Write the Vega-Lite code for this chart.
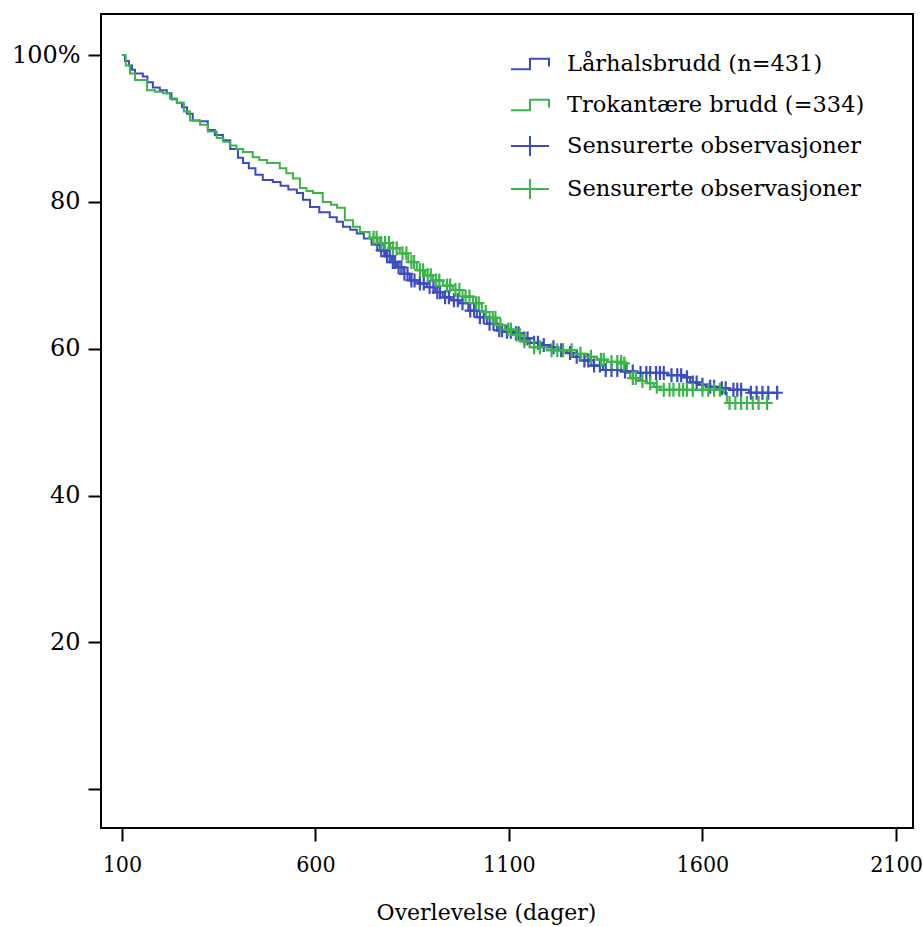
{
  "$schema": "https://vega.github.io/schema/vega-lite/v6.json",
  "autosize": "none",
  "width": 812,
  "height": 814,
  "padding": {"left": 101, "top": 14, "right": 10, "bottom": 99},
  "background": "white",
  "config": {
    "view": {"stroke": "black", "strokeWidth": 2},
    "font": "DejaVu Serif",
    "axis": {"grid": false, "domain": false, "tickColor": "black", "tickWidth": 2, "tickSize": 13, "labelColor": "black", "titleColor": "black", "labelFont": "DejaVu Serif", "titleFont": "DejaVu Serif", "titleFontWeight": "normal"}
  },
  "datasets": {
    "curves": [
      {"series": "Lårhalsbrudd (n=431)", "day": 100, "surv": 100},
      {"series": "Lårhalsbrudd (n=431)", "day": 108, "surv": 99.2},
      {"series": "Lårhalsbrudd (n=431)", "day": 118, "surv": 98.6},
      {"series": "Lårhalsbrudd (n=431)", "day": 126, "surv": 98.0},
      {"series": "Lårhalsbrudd (n=431)", "day": 134, "surv": 97.5},
      {"series": "Lårhalsbrudd (n=431)", "day": 154, "surv": 97.1},
      {"series": "Lårhalsbrudd (n=431)", "day": 166, "surv": 96.3},
      {"series": "Lårhalsbrudd (n=431)", "day": 180, "surv": 95.6},
      {"series": "Lårhalsbrudd (n=431)", "day": 198, "surv": 95.2},
      {"series": "Lårhalsbrudd (n=431)", "day": 216, "surv": 94.8},
      {"series": "Lårhalsbrudd (n=431)", "day": 228, "surv": 94.0},
      {"series": "Lårhalsbrudd (n=431)", "day": 242, "surv": 93.5},
      {"series": "Lårhalsbrudd (n=431)", "day": 255, "surv": 92.9},
      {"series": "Lårhalsbrudd (n=431)", "day": 268, "surv": 92.0},
      {"series": "Lårhalsbrudd (n=431)", "day": 283, "surv": 91.1},
      {"series": "Lårhalsbrudd (n=431)", "day": 300, "surv": 91.0},
      {"series": "Lårhalsbrudd (n=431)", "day": 322, "surv": 89.8},
      {"series": "Lårhalsbrudd (n=431)", "day": 340, "surv": 89.1},
      {"series": "Lårhalsbrudd (n=431)", "day": 361, "surv": 88.4},
      {"series": "Lårhalsbrudd (n=431)", "day": 380, "surv": 87.2},
      {"series": "Lårhalsbrudd (n=431)", "day": 400, "surv": 86.0},
      {"series": "Lårhalsbrudd (n=431)", "day": 413, "surv": 85.3},
      {"series": "Lårhalsbrudd (n=431)", "day": 428, "surv": 84.6},
      {"series": "Lårhalsbrudd (n=431)", "day": 445, "surv": 83.7},
      {"series": "Lårhalsbrudd (n=431)", "day": 464, "surv": 83.0},
      {"series": "Lårhalsbrudd (n=431)", "day": 490, "surv": 82.7},
      {"series": "Lårhalsbrudd (n=431)", "day": 510, "surv": 82.2},
      {"series": "Lårhalsbrudd (n=431)", "day": 530, "surv": 81.7},
      {"series": "Lårhalsbrudd (n=431)", "day": 552, "surv": 81.2},
      {"series": "Lårhalsbrudd (n=431)", "day": 568, "surv": 80.3},
      {"series": "Lårhalsbrudd (n=431)", "day": 586, "surv": 79.3},
      {"series": "Lårhalsbrudd (n=431)", "day": 610, "surv": 78.6},
      {"series": "Lårhalsbrudd (n=431)", "day": 637, "surv": 77.9},
      {"series": "Lårhalsbrudd (n=431)", "day": 655, "surv": 77.3},
      {"series": "Lårhalsbrudd (n=431)", "day": 671, "surv": 76.6},
      {"series": "Lårhalsbrudd (n=431)", "day": 690, "surv": 76.2},
      {"series": "Lårhalsbrudd (n=431)", "day": 707, "surv": 75.7},
      {"series": "Lårhalsbrudd (n=431)", "day": 725, "surv": 75.0},
      {"series": "Lårhalsbrudd (n=431)", "day": 745, "surv": 74.2},
      {"series": "Lårhalsbrudd (n=431)", "day": 767, "surv": 73.4},
      {"series": "Lårhalsbrudd (n=431)", "day": 782, "surv": 72.6},
      {"series": "Lårhalsbrudd (n=431)", "day": 797, "surv": 71.8},
      {"series": "Lårhalsbrudd (n=431)", "day": 811, "surv": 71.1},
      {"series": "Lårhalsbrudd (n=431)", "day": 828, "surv": 70.2},
      {"series": "Lårhalsbrudd (n=431)", "day": 844, "surv": 69.3},
      {"series": "Lårhalsbrudd (n=431)", "day": 865, "surv": 68.9},
      {"series": "Lårhalsbrudd (n=431)", "day": 888, "surv": 68.4},
      {"series": "Lårhalsbrudd (n=431)", "day": 910, "surv": 67.7},
      {"series": "Lårhalsbrudd (n=431)", "day": 929, "surv": 67.0},
      {"series": "Lårhalsbrudd (n=431)", "day": 950, "surv": 66.6},
      {"series": "Lårhalsbrudd (n=431)", "day": 973, "surv": 66.2},
      {"series": "Lårhalsbrudd (n=431)", "day": 995, "surv": 65.2},
      {"series": "Lårhalsbrudd (n=431)", "day": 1017, "surv": 64.3},
      {"series": "Lårhalsbrudd (n=431)", "day": 1043, "surv": 63.4},
      {"series": "Lårhalsbrudd (n=431)", "day": 1069, "surv": 62.5},
      {"series": "Lårhalsbrudd (n=431)", "day": 1090, "surv": 62.3},
      {"series": "Lårhalsbrudd (n=431)", "day": 1110, "surv": 62.1},
      {"series": "Lårhalsbrudd (n=431)", "day": 1132, "surv": 61.4},
      {"series": "Lårhalsbrudd (n=431)", "day": 1154, "surv": 60.8},
      {"series": "Lårhalsbrudd (n=431)", "day": 1180, "surv": 60.5},
      {"series": "Lårhalsbrudd (n=431)", "day": 1206, "surv": 60.2},
      {"series": "Lårhalsbrudd (n=431)", "day": 1228, "surv": 59.8},
      {"series": "Lårhalsbrudd (n=431)", "day": 1250, "surv": 59.4},
      {"series": "Lårhalsbrudd (n=431)", "day": 1266, "surv": 58.9},
      {"series": "Lårhalsbrudd (n=431)", "day": 1283, "surv": 58.4},
      {"series": "Lårhalsbrudd (n=431)", "day": 1313, "surv": 57.7},
      {"series": "Lårhalsbrudd (n=431)", "day": 1343, "surv": 57.1},
      {"series": "Lårhalsbrudd (n=431)", "day": 1390, "surv": 56.9},
      {"series": "Lårhalsbrudd (n=431)", "day": 1431, "surv": 56.7},
      {"series": "Lårhalsbrudd (n=431)", "day": 1510, "surv": 56.4},
      {"series": "Lårhalsbrudd (n=431)", "day": 1550, "surv": 56.1},
      {"series": "Lårhalsbrudd (n=431)", "day": 1568, "surv": 55.4},
      {"series": "Lårhalsbrudd (n=431)", "day": 1590, "surv": 55.1},
      {"series": "Lårhalsbrudd (n=431)", "day": 1612, "surv": 54.8},
      {"series": "Lårhalsbrudd (n=431)", "day": 1640, "surv": 54.6},
      {"series": "Lårhalsbrudd (n=431)", "day": 1671, "surv": 54.4},
      {"series": "Lårhalsbrudd (n=431)", "day": 1720, "surv": 54.0},
      {"series": "Lårhalsbrudd (n=431)", "day": 1793, "surv": 54.0},
      {"series": "Trokantære brudd (=334)", "day": 100, "surv": 100},
      {"series": "Trokantære brudd (=334)", "day": 110, "surv": 98.6},
      {"series": "Trokantære brudd (=334)", "day": 121, "surv": 97.5},
      {"series": "Trokantære brudd (=334)", "day": 134, "surv": 96.6},
      {"series": "Trokantære brudd (=334)", "day": 165, "surv": 95.2},
      {"series": "Trokantære brudd (=334)", "day": 185, "surv": 95.0},
      {"series": "Trokantære brudd (=334)", "day": 206, "surv": 94.8},
      {"series": "Trokantære brudd (=334)", "day": 224, "surv": 94.1},
      {"series": "Trokantære brudd (=334)", "day": 242, "surv": 93.5},
      {"series": "Trokantære brudd (=334)", "day": 260, "surv": 92.3},
      {"series": "Trokantære brudd (=334)", "day": 276, "surv": 91.1},
      {"series": "Trokantære brudd (=334)", "day": 302, "surv": 90.5},
      {"series": "Trokantære brudd (=334)", "day": 322, "surv": 89.6},
      {"series": "Trokantære brudd (=334)", "day": 345, "surv": 88.7},
      {"series": "Trokantære brudd (=334)", "day": 362, "surv": 88.2},
      {"series": "Trokantære brudd (=334)", "day": 379, "surv": 87.7},
      {"series": "Trokantære brudd (=334)", "day": 396, "surv": 87.2},
      {"series": "Trokantære brudd (=334)", "day": 413, "surv": 86.8},
      {"series": "Trokantære brudd (=334)", "day": 438, "surv": 86.1},
      {"series": "Trokantære brudd (=334)", "day": 455, "surv": 85.7},
      {"series": "Trokantære brudd (=334)", "day": 475, "surv": 85.3},
      {"series": "Trokantære brudd (=334)", "day": 508, "surv": 84.6},
      {"series": "Trokantære brudd (=334)", "day": 525, "surv": 83.9},
      {"series": "Trokantære brudd (=334)", "day": 542, "surv": 83.2},
      {"series": "Trokantære brudd (=334)", "day": 560, "surv": 81.9},
      {"series": "Trokantære brudd (=334)", "day": 577, "surv": 81.5},
      {"series": "Trokantære brudd (=334)", "day": 594, "surv": 81.2},
      {"series": "Trokantære brudd (=334)", "day": 619, "surv": 80.0},
      {"series": "Trokantære brudd (=334)", "day": 640, "surv": 79.6},
      {"series": "Trokantære brudd (=334)", "day": 656, "surv": 79.2},
      {"series": "Trokantære brudd (=334)", "day": 676, "surv": 77.5},
      {"series": "Trokantære brudd (=334)", "day": 697, "surv": 76.6},
      {"series": "Trokantære brudd (=334)", "day": 715, "surv": 75.9},
      {"series": "Trokantære brudd (=334)", "day": 740, "surv": 75.1},
      {"series": "Trokantære brudd (=334)", "day": 767, "surv": 74.4},
      {"series": "Trokantære brudd (=334)", "day": 793, "surv": 73.7},
      {"series": "Trokantære brudd (=334)", "day": 818, "surv": 73.0},
      {"series": "Trokantære brudd (=334)", "day": 840, "surv": 71.8},
      {"series": "Trokantære brudd (=334)", "day": 862, "surv": 70.7},
      {"series": "Trokantære brudd (=334)", "day": 883, "surv": 70.0},
      {"series": "Trokantære brudd (=334)", "day": 904, "surv": 69.3},
      {"series": "Trokantære brudd (=334)", "day": 930, "surv": 68.6},
      {"series": "Trokantære brudd (=334)", "day": 955, "surv": 68.0},
      {"series": "Trokantære brudd (=334)", "day": 980, "surv": 67.1},
      {"series": "Trokantære brudd (=334)", "day": 1007, "surv": 66.2},
      {"series": "Trokantære brudd (=334)", "day": 1030, "surv": 65.0},
      {"series": "Trokantære brudd (=334)", "day": 1050, "surv": 64.2},
      {"series": "Trokantære brudd (=334)", "day": 1069, "surv": 63.2},
      {"series": "Trokantære brudd (=334)", "day": 1090, "surv": 62.6},
      {"series": "Trokantære brudd (=334)", "day": 1110, "surv": 61.9},
      {"series": "Trokantære brudd (=334)", "day": 1132, "surv": 61.0},
      {"series": "Trokantære brudd (=334)", "day": 1154, "surv": 60.2},
      {"series": "Trokantære brudd (=334)", "day": 1198, "surv": 59.8},
      {"series": "Trokantære brudd (=334)", "day": 1275, "surv": 59.3},
      {"series": "Trokantære brudd (=334)", "day": 1302, "surv": 58.9},
      {"series": "Trokantære brudd (=334)", "day": 1328, "surv": 58.5},
      {"series": "Trokantære brudd (=334)", "day": 1353, "surv": 58.2},
      {"series": "Trokantære brudd (=334)", "day": 1395, "surv": 58.0},
      {"series": "Trokantære brudd (=334)", "day": 1405, "surv": 56.7},
      {"series": "Trokantære brudd (=334)", "day": 1413, "surv": 56.0},
      {"series": "Trokantære brudd (=334)", "day": 1435, "surv": 55.6},
      {"series": "Trokantære brudd (=334)", "day": 1457, "surv": 55.3},
      {"series": "Trokantære brudd (=334)", "day": 1475, "surv": 54.8},
      {"series": "Trokantære brudd (=334)", "day": 1490, "surv": 54.4},
      {"series": "Trokantære brudd (=334)", "day": 1653, "surv": 54.0},
      {"series": "Trokantære brudd (=334)", "day": 1663, "surv": 52.6},
      {"series": "Trokantære brudd (=334)", "day": 1767, "surv": 52.6}
    ],
    "censor": [
      {"series": "Sensurerte observasjoner", "day": 760, "surv": 74.2},
      {"series": "Sensurerte observasjoner", "day": 770, "surv": 73.4},
      {"series": "Sensurerte observasjoner", "day": 778, "surv": 73.4},
      {"series": "Sensurerte observasjoner", "day": 785, "surv": 72.6},
      {"series": "Sensurerte observasjoner", "day": 792, "surv": 72.6},
      {"series": "Sensurerte observasjoner", "day": 800, "surv": 71.8},
      {"series": "Sensurerte observasjoner", "day": 806, "surv": 71.8},
      {"series": "Sensurerte observasjoner", "day": 815, "surv": 71.1},
      {"series": "Sensurerte observasjoner", "day": 822, "surv": 71.1},
      {"series": "Sensurerte observasjoner", "day": 830, "surv": 70.2},
      {"series": "Sensurerte observasjoner", "day": 838, "surv": 70.2},
      {"series": "Sensurerte observasjoner", "day": 848, "surv": 69.3},
      {"series": "Sensurerte observasjoner", "day": 856, "surv": 69.3},
      {"series": "Sensurerte observasjoner", "day": 870, "surv": 68.9},
      {"series": "Sensurerte observasjoner", "day": 880, "surv": 68.9},
      {"series": "Sensurerte observasjoner", "day": 895, "surv": 68.4},
      {"series": "Sensurerte observasjoner", "day": 905, "surv": 68.4},
      {"series": "Sensurerte observasjoner", "day": 915, "surv": 67.7},
      {"series": "Sensurerte observasjoner", "day": 922, "surv": 67.7},
      {"series": "Sensurerte observasjoner", "day": 935, "surv": 67.0},
      {"series": "Sensurerte observasjoner", "day": 945, "surv": 67.0},
      {"series": "Sensurerte observasjoner", "day": 958, "surv": 66.6},
      {"series": "Sensurerte observasjoner", "day": 968, "surv": 66.6},
      {"series": "Sensurerte observasjoner", "day": 980, "surv": 66.2},
      {"series": "Sensurerte observasjoner", "day": 1000, "surv": 65.2},
      {"series": "Sensurerte observasjoner", "day": 1010, "surv": 65.2},
      {"series": "Sensurerte observasjoner", "day": 1025, "surv": 64.3},
      {"series": "Sensurerte observasjoner", "day": 1035, "surv": 64.3},
      {"series": "Sensurerte observasjoner", "day": 1050, "surv": 63.4},
      {"series": "Sensurerte observasjoner", "day": 1060, "surv": 63.4},
      {"series": "Sensurerte observasjoner", "day": 1075, "surv": 62.5},
      {"series": "Sensurerte observasjoner", "day": 1082, "surv": 62.5},
      {"series": "Sensurerte observasjoner", "day": 1095, "surv": 62.3},
      {"series": "Sensurerte observasjoner", "day": 1105, "surv": 62.3},
      {"series": "Sensurerte observasjoner", "day": 1118, "surv": 62.1},
      {"series": "Sensurerte observasjoner", "day": 1125, "surv": 62.1},
      {"series": "Sensurerte observasjoner", "day": 1140, "surv": 61.4},
      {"series": "Sensurerte observasjoner", "day": 1148, "surv": 61.4},
      {"series": "Sensurerte observasjoner", "day": 1165, "surv": 60.8},
      {"series": "Sensurerte observasjoner", "day": 1175, "surv": 60.8},
      {"series": "Sensurerte observasjoner", "day": 1190, "surv": 60.5},
      {"series": "Sensurerte observasjoner", "day": 1215, "surv": 60.2},
      {"series": "Sensurerte observasjoner", "day": 1235, "surv": 59.8},
      {"series": "Sensurerte observasjoner", "day": 1258, "surv": 59.4},
      {"series": "Sensurerte observasjoner", "day": 1275, "surv": 58.9},
      {"series": "Sensurerte observasjoner", "day": 1295, "surv": 58.4},
      {"series": "Sensurerte observasjoner", "day": 1305, "surv": 58.4},
      {"series": "Sensurerte observasjoner", "day": 1320, "surv": 57.7},
      {"series": "Sensurerte observasjoner", "day": 1335, "surv": 57.7},
      {"series": "Sensurerte observasjoner", "day": 1350, "surv": 57.1},
      {"series": "Sensurerte observasjoner", "day": 1365, "surv": 57.1},
      {"series": "Sensurerte observasjoner", "day": 1380, "surv": 57.1},
      {"series": "Sensurerte observasjoner", "day": 1400, "surv": 56.9},
      {"series": "Sensurerte observasjoner", "day": 1420, "surv": 56.9},
      {"series": "Sensurerte observasjoner", "day": 1440, "surv": 56.7},
      {"series": "Sensurerte observasjoner", "day": 1455, "surv": 56.7},
      {"series": "Sensurerte observasjoner", "day": 1465, "surv": 56.7},
      {"series": "Sensurerte observasjoner", "day": 1480, "surv": 56.7},
      {"series": "Sensurerte observasjoner", "day": 1490, "surv": 56.7},
      {"series": "Sensurerte observasjoner", "day": 1500, "surv": 56.7},
      {"series": "Sensurerte observasjoner", "day": 1520, "surv": 56.4},
      {"series": "Sensurerte observasjoner", "day": 1535, "surv": 56.4},
      {"series": "Sensurerte observasjoner", "day": 1545, "surv": 56.4},
      {"series": "Sensurerte observasjoner", "day": 1560, "surv": 56.1},
      {"series": "Sensurerte observasjoner", "day": 1575, "surv": 55.4},
      {"series": "Sensurerte observasjoner", "day": 1585, "surv": 55.4},
      {"series": "Sensurerte observasjoner", "day": 1600, "surv": 55.1},
      {"series": "Sensurerte observasjoner", "day": 1620, "surv": 54.8},
      {"series": "Sensurerte observasjoner", "day": 1630, "surv": 54.8},
      {"series": "Sensurerte observasjoner", "day": 1650, "surv": 54.6},
      {"series": "Sensurerte observasjoner", "day": 1660, "surv": 54.6},
      {"series": "Sensurerte observasjoner", "day": 1680, "surv": 54.4},
      {"series": "Sensurerte observasjoner", "day": 1690, "surv": 54.4},
      {"series": "Sensurerte observasjoner", "day": 1700, "surv": 54.4},
      {"series": "Sensurerte observasjoner", "day": 1725, "surv": 54.0},
      {"series": "Sensurerte observasjoner", "day": 1740, "surv": 54.0},
      {"series": "Sensurerte observasjoner", "day": 1755, "surv": 54.0},
      {"series": "Sensurerte observasjoner", "day": 1770, "surv": 54.0},
      {"series": "Sensurerte observasjoner", "day": 1793, "surv": 54.0},
      {"series": "Sensurerte observasjoner ", "day": 750, "surv": 75.1},
      {"series": "Sensurerte observasjoner ", "day": 758, "surv": 75.1},
      {"series": "Sensurerte observasjoner ", "day": 770, "surv": 74.4},
      {"series": "Sensurerte observasjoner ", "day": 780, "surv": 74.4},
      {"series": "Sensurerte observasjoner ", "day": 790, "surv": 74.4},
      {"series": "Sensurerte observasjoner ", "day": 800, "surv": 73.7},
      {"series": "Sensurerte observasjoner ", "day": 810, "surv": 73.7},
      {"series": "Sensurerte observasjoner ", "day": 825, "surv": 73.0},
      {"series": "Sensurerte observasjoner ", "day": 835, "surv": 73.0},
      {"series": "Sensurerte observasjoner ", "day": 848, "surv": 71.8},
      {"series": "Sensurerte observasjoner ", "day": 855, "surv": 71.8},
      {"series": "Sensurerte observasjoner ", "day": 870, "surv": 70.7},
      {"series": "Sensurerte observasjoner ", "day": 878, "surv": 70.7},
      {"series": "Sensurerte observasjoner ", "day": 890, "surv": 70.0},
      {"series": "Sensurerte observasjoner ", "day": 898, "surv": 70.0},
      {"series": "Sensurerte observasjoner ", "day": 912, "surv": 69.3},
      {"series": "Sensurerte observasjoner ", "day": 920, "surv": 69.3},
      {"series": "Sensurerte observasjoner ", "day": 940, "surv": 68.6},
      {"series": "Sensurerte observasjoner ", "day": 948, "surv": 68.6},
      {"series": "Sensurerte observasjoner ", "day": 962, "surv": 68.0},
      {"series": "Sensurerte observasjoner ", "day": 972, "surv": 68.0},
      {"series": "Sensurerte observasjoner ", "day": 988, "surv": 67.1},
      {"series": "Sensurerte observasjoner ", "day": 998, "surv": 67.1},
      {"series": "Sensurerte observasjoner ", "day": 1015, "surv": 66.2},
      {"series": "Sensurerte observasjoner ", "day": 1022, "surv": 66.2},
      {"series": "Sensurerte observasjoner ", "day": 1040, "surv": 65.0},
      {"series": "Sensurerte observasjoner ", "day": 1058, "surv": 64.2},
      {"series": "Sensurerte observasjoner ", "day": 1065, "surv": 64.2},
      {"series": "Sensurerte observasjoner ", "day": 1078, "surv": 63.2},
      {"series": "Sensurerte observasjoner ", "day": 1098, "surv": 62.6},
      {"series": "Sensurerte observasjoner ", "day": 1105, "surv": 62.6},
      {"series": "Sensurerte observasjoner ", "day": 1120, "surv": 61.9},
      {"series": "Sensurerte observasjoner ", "day": 1128, "surv": 61.9},
      {"series": "Sensurerte observasjoner ", "day": 1140, "surv": 61.0},
      {"series": "Sensurerte observasjoner ", "day": 1165, "surv": 60.2},
      {"series": "Sensurerte observasjoner ", "day": 1180, "surv": 60.2},
      {"series": "Sensurerte observasjoner ", "day": 1210, "surv": 59.8},
      {"series": "Sensurerte observasjoner ", "day": 1225, "surv": 59.8},
      {"series": "Sensurerte observasjoner ", "day": 1240, "surv": 59.8},
      {"series": "Sensurerte observasjoner ", "day": 1262, "surv": 59.8},
      {"series": "Sensurerte observasjoner ", "day": 1285, "surv": 59.3},
      {"series": "Sensurerte observasjoner ", "day": 1312, "surv": 58.9},
      {"series": "Sensurerte observasjoner ", "day": 1338, "surv": 58.5},
      {"series": "Sensurerte observasjoner ", "day": 1345, "surv": 58.5},
      {"series": "Sensurerte observasjoner ", "day": 1365, "surv": 58.2},
      {"series": "Sensurerte observasjoner ", "day": 1380, "surv": 58.2},
      {"series": "Sensurerte observasjoner ", "day": 1390, "surv": 58.2},
      {"series": "Sensurerte observasjoner ", "day": 1398, "surv": 58.0},
      {"series": "Sensurerte observasjoner ", "day": 1420, "surv": 56.0},
      {"series": "Sensurerte observasjoner ", "day": 1428, "surv": 56.0},
      {"series": "Sensurerte observasjoner ", "day": 1445, "surv": 55.6},
      {"series": "Sensurerte observasjoner ", "day": 1465, "surv": 55.3},
      {"series": "Sensurerte observasjoner ", "day": 1482, "surv": 54.8},
      {"series": "Sensurerte observasjoner ", "day": 1500, "surv": 54.4},
      {"series": "Sensurerte observasjoner ", "day": 1515, "surv": 54.4},
      {"series": "Sensurerte observasjoner ", "day": 1525, "surv": 54.4},
      {"series": "Sensurerte observasjoner ", "day": 1540, "surv": 54.4},
      {"series": "Sensurerte observasjoner ", "day": 1550, "surv": 54.4},
      {"series": "Sensurerte observasjoner ", "day": 1560, "surv": 54.4},
      {"series": "Sensurerte observasjoner ", "day": 1575, "surv": 54.4},
      {"series": "Sensurerte observasjoner ", "day": 1600, "surv": 54.4},
      {"series": "Sensurerte observasjoner ", "day": 1615, "surv": 54.4},
      {"series": "Sensurerte observasjoner ", "day": 1630, "surv": 54.4},
      {"series": "Sensurerte observasjoner ", "day": 1645, "surv": 54.4},
      {"series": "Sensurerte observasjoner ", "day": 1670, "surv": 52.6},
      {"series": "Sensurerte observasjoner ", "day": 1685, "surv": 52.6},
      {"series": "Sensurerte observasjoner ", "day": 1700, "surv": 52.6},
      {"series": "Sensurerte observasjoner ", "day": 1715, "surv": 52.6},
      {"series": "Sensurerte observasjoner ", "day": 1730, "surv": 52.6},
      {"series": "Sensurerte observasjoner ", "day": 1745, "surv": 52.6},
      {"series": "Sensurerte observasjoner ", "day": 1767, "surv": 52.6}
    ]
  },
  "layer": [
    {
      "data": {"name": "curves"},
      "mark": {"type": "line", "interpolate": "step-after", "strokeWidth": 2, "clip": true},
      "encoding": {
        "x": {"field": "day", "type": "quantitative",
          "scale": {"domain": [46, 2144], "nice": false, "zero": false},
          "axis": {"values": [100, 600, 1100, 1600, 2100], "format": "d", "title": "Overlevelse (dager)", "labelFont": "DejaVu Serif Condensed", "labelFontSize": 23, "labelPadding": 12, "titleFontSize": 22, "titlePadding": 26, "titleX": 385}},
        "y": {"field": "surv", "type": "quantitative",
          "scale": {"domain": [-5.3, 105.6], "nice": false, "zero": false},
          "axis": {"values": [0, 20, 40, 60, 80, 100], "title": null, "labelFontSize": 24, "labelPadding": 8, "labelExpr": "datum.value == 100 ? '100%' : datum.value == 0 ? '' : datum.label"}},
        "color": {"field": "series", "type": "nominal",
          "scale": {"domain": ["Lårhalsbrudd (n=431)", "Trokantære brudd (=334)", "Sensurerte observasjoner", "Sensurerte observasjoner "], "range": ["#3b4cc0", "#3cb44a", "#3b4cc0", "#3cb44a"]},
          "legend": {"title": null, "orient": "none", "legendX": 409, "legendY": 30, "padding": 0, "symbolSize": 1444, "symbolStrokeWidth": 2, "labelFontSize": 22.5, "labelFont": "DejaVu Serif", "labelColor": "black", "labelOffset": 17, "rowPadding": 9, "labelLimit": 400,
            "encode": {"symbols": {"update": {"shape": {"signal": "test(/^Sens/, datum.value) ? 'M-1,0L1,0M0,-0.52L0,0.52' : 'M-1,0.27L0,0.27L0,-0.27L1,-0.27L1,0.13'"}, "fill": {"value": "transparent"}, "strokeWidth": {"value": 2}}}}}}
      }
    },
    {
      "data": {"name": "censor"},
      "mark": {"type": "point", "filled": false, "shape": "M-0.8,0L0.8,0M0,-1L0,1", "size": 196, "strokeWidth": 2.2, "opacity": 1},
      "encoding": {
        "x": {"field": "day", "type": "quantitative"},
        "y": {"field": "surv", "type": "quantitative"},
        "color": {"field": "series", "type": "nominal"}
      }
    }
  ]
}
